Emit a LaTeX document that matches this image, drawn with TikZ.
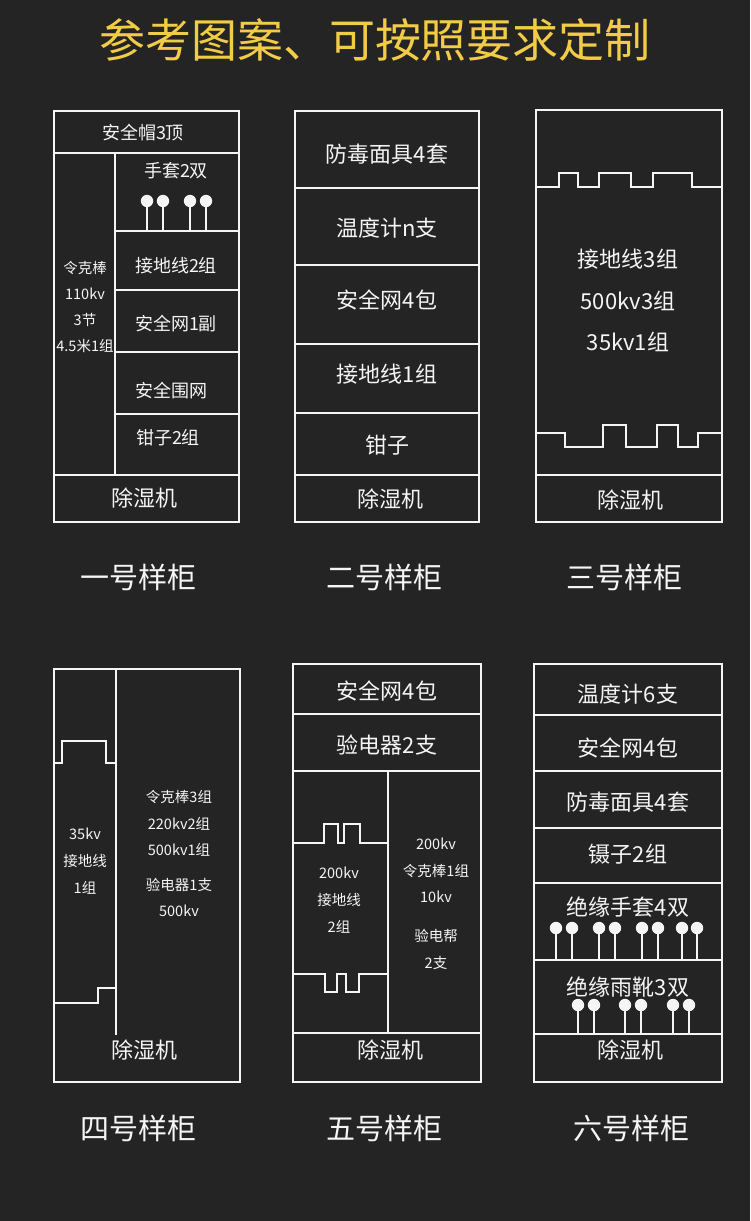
\documentclass[tikz,border=0pt]{standalone}
\usepackage{fontspec}
\setmainfont{Noto Sans CJK SC}
\definecolor{bg}{RGB}{36,36,36}
\definecolor{gold}{RGB}{242,204,70}
\definecolor{ink}{RGB}{245,245,245}
\begin{document}
\begin{tikzpicture}[x=1pt,y=-1pt,
  frame/.style={draw=ink,line width=2.6pt},
  lbl/.style={text=ink,inner sep=0pt,anchor=center},
  fxl/.style={lbl,font=\fontsize{22}{26}\selectfont},
  fl/.style={lbl,font=\fontsize{18}{22}\selectfont},
  fs/.style={lbl,font=\fontsize{14.5}{18}\selectfont},
  cablbl/.style={lbl,font=\fontsize{29}{34}\selectfont},
  pinstick/.style={draw=ink,line width=2.6pt},
]
\fill[bg] (0,0) rectangle (750,1221);
\useasboundingbox (0,0) rectangle (750,1221);

% title
\node[lbl,text=gold,font=\fontsize{46}{52}\selectfont] (title) at (375,40) {参考图案、可按照要求定制};

% ---------------- cabinet 1
\draw[frame] (54,111) rectangle (239,522);
\draw[frame] (54,153) -- (239,153);
\draw[frame] (115,153) -- (115,475);
\draw[frame] (115,231) -- (239,231);
\draw[frame] (115,290) -- (239,290);
\draw[frame] (115,352) -- (239,352);
\draw[frame] (115,414) -- (239,414);
\draw[frame] (54,475) -- (239,475);
\foreach \x in {147,163,190,206}{
  \draw[pinstick] (\x,201) -- (\x,231);
  \fill[ink] (\x,201) circle (6.2);
}
\node[fl] (c1a) at (143,133) {安全帽3顶};
\node[fl] (c1b) at (176,171) {手套2双};
\node[fl] (c1c) at (176,266) {接地线2组};
\node[fl] (c1d) at (176,324) {安全网1副};
\node[fl] (c1e) at (171,391) {安全围网};
\node[fl] (c1f) at (168,438) {钳子2组};
\node[fxl] (c1g) at (144,498) {除湿机};
\node[fs] (c1h) at (85,268) {令克棒};
\node[fs] (c1i) at (85,294) {110kv};
\node[fs] (c1j) at (85,320) {3节};
\node[fs] (c1k) at (85,346) {4.5米1组};
\node[cablbl] (cap1) at (138,577) {一号样柜};

% ---------------- cabinet 2
\draw[frame] (295,111) rectangle (479,522);
\foreach \y in {188,265,344,413,475}{\draw[frame] (295,\y) -- (479,\y);}
\node[fxl] (c2a) at (387,154) {防毒面具4套};
\node[fxl] (c2b) at (387,228) {温度计n支};
\node[fxl] (c2c) at (387,300) {安全网4包};
\node[fxl] (c2d) at (387,374) {接地线1组};
\node[fxl] (c2e) at (387,445) {钳子};
\node[fxl] (c2f) at (390,499) {除湿机};
\node[cablbl] (cap2) at (384,577) {二号样柜};

% ---------------- cabinet 3
\draw[frame] (536,110) rectangle (722,522);
\draw[frame] (536,187) -- (559,187) -- (559,173) -- (578,173) -- (578,187) -- (599,187) -- (599,173) -- (631,173) -- (631,187) -- (653,187) -- (653,173) -- (692,173) -- (692,187) -- (722,187);
\draw[frame] (536,433) -- (565,433) -- (565,447) -- (603,447) -- (603,425) -- (626,425) -- (626,447) -- (657,447) -- (657,425) -- (678,425) -- (678,447) -- (698,447) -- (698,433) -- (722,433);
\draw[frame] (536,475) -- (722,475);
\node[fxl] (c3a) at (628,259) {接地线3组};
\node[fxl] (c3b) at (628,301) {500kv3组};
\node[fxl] (c3c) at (628,342) {35kv1组};
\node[fxl] (c3d) at (630,500) {除湿机};
\node[cablbl] (cap3) at (624,577) {三号样柜};

% ---------------- cabinet 4
\draw[frame] (54,669) rectangle (240,1082);
\draw[frame] (116,669) -- (116,1035);
\draw[frame] (54,763) -- (62,763) -- (62,741) -- (106,741) -- (106,763) -- (116,763);
\draw[frame] (54,1003) -- (98,1003) -- (98,988) -- (116,988);
\node[fs] (c4a) at (85,834) {35kv};
\node[fs] (c4b) at (85,861) {接地线};
\node[fs] (c4c) at (85,888) {1组};
\node[fs] (c4d) at (179,797) {令克棒3组};
\node[fs] (c4e) at (179,824) {220kv2组};
\node[fs] (c4f) at (179,850) {500kv1组};
\node[fs] (c4g) at (179,885) {验电器1支};
\node[fs] (c4h) at (179,911) {500kv};
\node[fxl] (c4i) at (144,1050) {除湿机};
\node[cablbl] (cap4) at (138,1128) {四号样柜};

% ---------------- cabinet 5
\draw[frame] (293,664) rectangle (481,1082);
\draw[frame] (293,714) -- (481,714);
\draw[frame] (293,771) -- (481,771);
\draw[frame] (293,1033) -- (481,1033);
\draw[frame] (388,771) -- (388,1033);
\draw[frame] (293,843) -- (324,843) -- (324,824) -- (338,824) -- (338,843) -- (344,843) -- (344,824) -- (360,824) -- (360,843) -- (388,843);
\draw[frame] (293,974) -- (325,974) -- (325,992) -- (337,992) -- (337,974) -- (346,974) -- (346,992) -- (359,992) -- (359,974) -- (388,974);
\node[fxl] (c5a) at (387,691) {安全网4包};
\node[fxl] (c5b) at (387,745) {验电器2支};
\node[fs] (c5c) at (339,873) {200kv};
\node[fs] (c5d) at (339,900) {接地线};
\node[fs] (c5e) at (339,927) {2组};
\node[fs] (c5f) at (436,844) {200kv};
\node[fs] (c5g) at (436,871) {令克棒1组};
\node[fs] (c5h) at (436,897) {10kv};
\node[fs] (c5i) at (436,936) {验电帮};
\node[fs] (c5j) at (436,963) {2支};
\node[fxl] (c5k) at (390,1050) {除湿机};
\node[cablbl] (cap5) at (384,1128) {五号样柜};

% ---------------- cabinet 6
\draw[frame] (534,664) rectangle (722,1082);
\foreach \y in {715,771,828,883,960,1034}{\draw[frame] (534,\y) -- (722,\y);}
\foreach \x in {556,572,599,615,642,658,682,697}{
  \draw[pinstick] (\x,928) -- (\x,960);
  \fill[ink] (\x,928) circle (6.2);
}
\foreach \x in {578,594,625,641,673,689}{
  \draw[pinstick] (\x,1005) -- (\x,1034);
  \fill[ink] (\x,1005) circle (6.2);
}
\node[fxl] (c6a) at (628,694) {温度计6支};
\node[fxl] (c6b) at (628,748) {安全网4包};
\node[fxl] (c6c) at (628,802) {防毒面具4套};
\node[fxl] (c6d) at (628,854) {镊子2组};
\node[fxl] (c6e) at (628,907) {绝缘手套4双};
\node[fxl] (c6f) at (628,987) {绝缘雨靴3双};
\node[fxl] (c6g) at (630,1050) {除湿机};
\node[cablbl] (cap6) at (631,1128) {六号样柜};
\end{tikzpicture}
\end{document}
